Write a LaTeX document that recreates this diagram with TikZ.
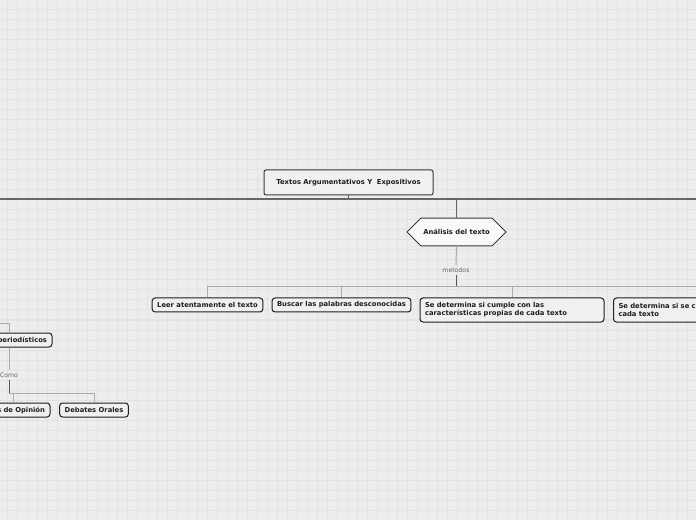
\documentclass[tikz,border=0pt]{standalone}
\usepackage{fontspec}
\setmainfont{DejaVu Sans}
\usetikzlibrary{positioning,shapes.misc}
\definecolor{paper}{HTML}{EDEDED}
\definecolor{gridc}{HTML}{E3E3E3}
\definecolor{ink}{HTML}{1E1E1E}
\definecolor{edge}{HTML}{3A3A3A}
\definecolor{trunk}{HTML}{666666}
\definecolor{twig}{HTML}{ABABAB}
\definecolor{boxfill}{HTML}{F0F0F0}

\begin{document}
\begin{tikzpicture}[x=0.75pt, y=-0.75pt,
    topic/.style={draw=edge, line width=0.75pt, fill=boxfill, rounded corners=1.5pt, text=ink, font=\fontsize{5.1}{6}\selectfont\bfseries, minimum width=126.75pt, minimum height=18.75pt},
    hexa/.style={chamfered rectangle, chamfered rectangle xsep=6pt, chamfered rectangle ysep=8.25pt, draw=edge, line width=0.75pt, fill=white!60!boxfill, text=ink, font=\fontsize{5.1}{6}\selectfont\bfseries, minimum width=74.25pt, minimum height=16.5pt, inner sep=0pt},
    leaf/.style={draw=ink, line width=0.75pt, fill=boxfill, rounded corners=2.25pt, text=ink, font=\fontsize{5.1}{6}\selectfont\bfseries, inner xsep=3.75pt, inner ysep=0pt, minimum height=10.5pt},
    wide/.style={leaf, text width=130.5pt, align=left, minimum height=18pt},
    tag/.style={text=trunk, font=\fontsize{4.65}{5.5}\selectfont, inner sep=1.5pt},
    trunkline/.style={draw=trunk, line width=1.1pt},
    twigline/.style={draw=twig, line width=0.75pt},
    stemline/.style={draw=edge!85, line width=0.75pt}]
  \useasboundingbox (0,0) rectangle (696,520);
  \clip (0,0) rectangle (696,520);
  \fill[paper] (0,0) rectangle (696,520);
  % grid
  \foreach \gx in {7,17,...,697} \draw[gridc, line width=0.75pt] (\gx,0) -- (\gx,520);
  \foreach \gy in {0,10,...,520} \draw[gridc, line width=0.75pt] (0,\gy) -- (696,\gy);

  \node[topic] (root) at (348.5,182.5) {Textos Argumentativos Y\ \ Expositivos};
  \node[hexa] (hex) at (456.5,232) {Análisis del texto};
  \node[tag] (metodos) at (456,270) {metodos};
  \node[leaf] (n1) at (207.5,305) {Leer atentamente el texto};
  \node[leaf] (n2) at (341.5,305) {Buscar las palabras desconocidas};
  \node[wide] (n3) at (512,310) {Se determina si cumple con las\\características propias de cada texto};
  \node[wide, anchor=west] (n4) at (613,310) {Se determina si se c\\cada texto};

  \node[leaf, text width=57pt, align=right] (per) at (9,340) {periodísticos};
  \node[tag] (como) at (9,375) {Como};
  \node[leaf, text width=48pt, align=right] (ops) at (13,410) {s de Opinión};
  \node[leaf] (deb) at (94,410) {Debates Orales};

  % main line
  \coordinate (trunkL) at (-5,199);
  \coordinate (trunkR) at (701,199);
  \draw[trunkline] (trunkL) -- (trunkR);
  \draw[trunkline] (root.south) -- (root.south |- trunkR);
  \draw[trunkline] (hex.north) -- (hex.north |- trunkR);

  % metodos
  \coordinate (bar) at (456,287);
  \draw[twigline] (hex.south) -- (metodos.north);
  \draw[stemline] (metodos.south) -- (bar);
  \foreach \n in {n1,n2,n3,n4} \draw[twigline] (\n.north) |- (bar);

  % left branch
  \coordinate (barL) at (-5,323);
  \coordinate (bar2) at (9,393);
  \draw[twigline] (barL) -| (per.north);
  \draw[twigline] (per.south) -- (como.north);
  \draw[stemline] (como.south) -- (bar2);
  \draw[twigline] (ops.north) |- (bar2);
  \draw[twigline] (deb.north) |- (bar2);
\end{tikzpicture}
\end{document}
